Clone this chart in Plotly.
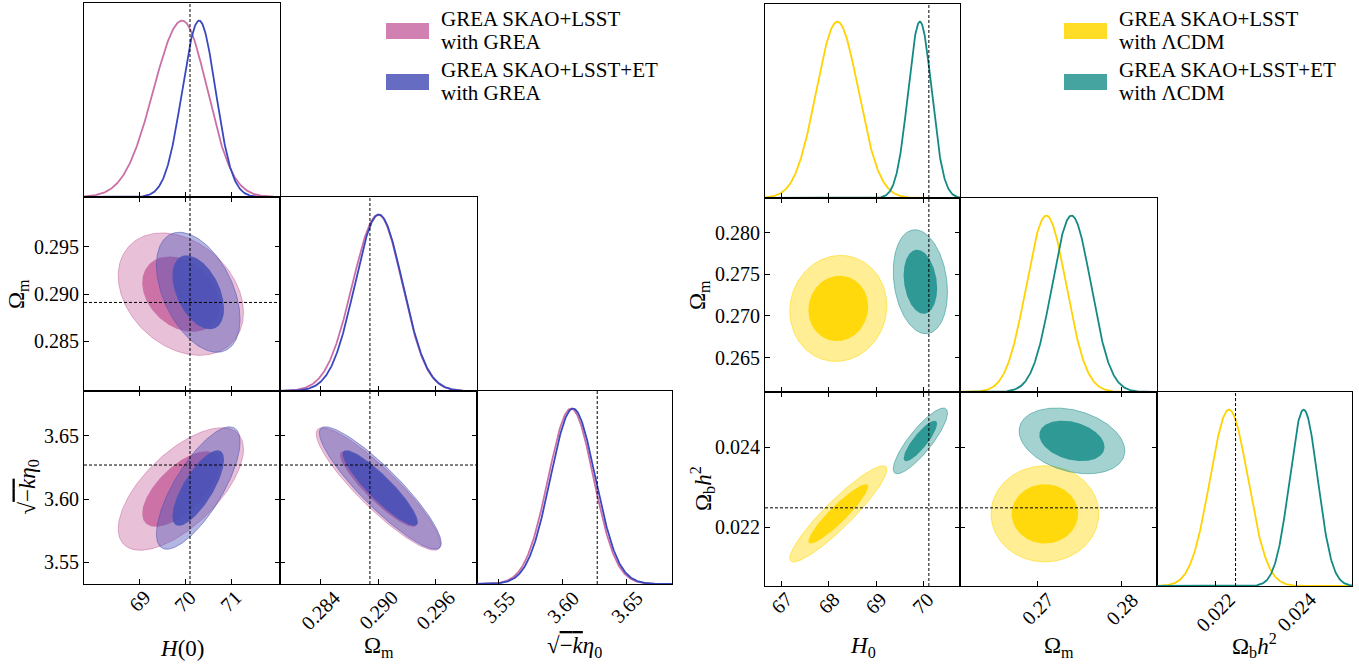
import numpy as np
import plotly.graph_objects as go

W, H = 1359, 664

# ---------------- data ----------------
SQRTK = "√<span style='text-decoration:overline'>−<i>k</i></span><i>η</i><sub>0</sub>"
L_LABELS = ["<i>H</i>(0)", "Ω<sub>m</sub>", SQRTK]
L_RANGES = [[67.78, 72.07], [0.27973, 0.3003], [3.5328, 3.6856]]
L_FID = [70.1, 0.28912, 3.627]
L_TICKS = [[69, 70, 71], [0.284, 0.290, 0.296], [3.55, 3.60, 3.65]]
L_TICKTEXT = [["69", "70", "71"], ["0.284", "0.290", "0.296"], ["3.55", "3.60", "3.65"]]
L_YTICKS = [None, [0.285, 0.290, 0.295], [3.55, 3.60, 3.65]]
L_YTICKTEXT = [None, ["0.285", "0.290", "0.295"], ["3.55", "3.60", "3.65"]]

L_NAMES = [["GREA SKAO+LSST", "with GREA"], ["GREA SKAO+LSST+ET", "with GREA"]]
L_FILL = [(201, 107, 163), (75, 82, 182)]
L_LINE = ["#CA70A7", "#3A48C0"]
L_MEAN1D = [[69.93, 0.2900, 3.6065], [70.30, 0.29005, 3.6080]]
L_SIGLO1D = [[0.63, 0.0027, 0.0178], [0.37, 0.0025, 0.0176]]
L_SIGHI1D = [[0.55, 0.0025, 0.0176], [0.36, 0.0025, 0.0176]]
L_MEAN2D = [[69.90, 0.2900, 3.6080], [70.28, 0.2902, 3.6088]]
L_SIG2D = [[0.56, 0.00265, 0.0198], [0.374, 0.0026, 0.0198]]
L_RHO = [[-0.30, 0.65, -0.90], [-0.45, 0.75, -0.90]]  # pairs (0,1),(0,2),(1,2)

R_LABELS = ["<i>H</i><sub>0</sub>", "Ω<sub>m</sub>", "Ω<sub>b</sub><i>h</i><sup>2</sup>"]
R_RANGES = [[66.646, 70.78], [0.26087, 0.28415], [0.02054, 0.02538]]
R_FID = [70.12, None, 0.02249]
R_TICKS = [[67, 68, 69, 70], [0.27, 0.28], [0.022, 0.024]]
R_TICKTEXT = [["67", "68", "69", "70"], ["0.27", "0.28"], ["0.022", "0.024"]]
R_YTICKS = [None, [0.265, 0.270, 0.275, 0.280], [0.022, 0.024]]
R_YTICKTEXT = [None, ["0.265", "0.270", "0.275", "0.280"], ["0.022", "0.024"]]

R_NAMES = [["GREA SKAO+LSST", "with ΛCDM"], ["GREA SKAO+LSST+ET", "with ΛCDM"]]
R_FILL = [(255, 215, 0), (37, 148, 143)]
R_LINE = ["#FFD200", "#138A84"]
R_MEAN1D = [[68.18, 0.27107, 0.022328], [69.93, 0.27405, 0.02418]]
R_SIGLO1D = [[0.447, 0.00236, 0.000472], [0.249, 0.0023, 0.00035]]
R_SIGHI1D = [[0.447, 0.00236, 0.000472], [0.249, 0.0023, 0.00035]]
R_MEAN2D = [[68.20, 0.2709, 0.02234], [69.94, 0.2741, 0.02416]]
R_SIG2D = [[0.42, 0.0026, 0.00049], [0.235, 0.00255, 0.000335]]
R_RHO = [[0.05, 0.92, 0.0], [-0.2, 0.85, -0.3]]

CONTOUR_LEVELS = [0.95, 0.68]

# ---------------- layout geometry (pixels) ----------------
L_COLS = [(84, 280), (280, 477), (477, 672)]
L_ROWS = [(3, 197), (197, 391), (391, 584)]
R_COLS = [(765, 960), (960, 1157), (1157, 1352)]
R_ROWS = [(4, 198), (198, 392), (392, 586)]
L_YLAB_X = [None, 18, 28]
R_YLAB_X = [None, 699, 702]

FONT = "Liberation Serif, DejaVu Serif, serif"
TICKFONT = dict(family=FONT, size=20, color="black")


def px(x):
    return x / W


def py(y):
    return 1 - y / H


fig = go.Figure()
layout = {}
shapes = []
annotations = []
axis_counter = [0]

PAIR_INDEX = {(0, 1): 0, (0, 2): 1, (1, 2): 2}


def rgba(c, a):
    return f"rgba({c[0]},{c[1]},{c[2]},{a})"


def ellipse(mean, sx, sy, rho, level):
    r = np.sqrt(-2 * np.log(1 - level))
    t = np.linspace(0, 2 * np.pi, 240)
    cov = np.array([[sx * sx, rho * sx * sy], [rho * sx * sy, sy * sy]])
    Lc = np.linalg.cholesky(cov)
    z = r * np.vstack([np.cos(t), np.sin(t)])
    pts = Lc @ z
    return mean[0] + pts[0], mean[1] + pts[1]


def build_corner(cols, rows, labels, ranges, fid, ticks, ticktext, yticks, yticktext,
                 fills, lines, mean1d, siglo, sighi, mean2d, sig2d, rho):
    n = len(labels)
    for i in range(n):
        for j in range(i + 1):
            axis_counter[0] += 1
            k = axis_counter[0]
            suf = "" if k == 1 else str(k)
            xa = f"xaxis{suf}"
            ya = f"yaxis{suf}"
            xr = f"x{suf}"
            yr = f"y{suf}"
            bottom = (i == n - 1)
            xaxis = dict(domain=[px(cols[j][0]), px(cols[j][1])], range=ranges[j],
                         anchor=yr, showgrid=False, zeroline=False, showline=True,
                         linecolor="black", linewidth=1, mirror=True,
                         ticks="inside", ticklen=5, tickwidth=1, tickcolor="black",
                         tickvals=ticks[j], showticklabels=False)
            yaxis = dict(domain=[py(rows[i][1]), py(rows[i][0])], anchor=xr,
                         showgrid=False, zeroline=False, showline=True,
                         linecolor="black", linewidth=1, mirror=True, tickfont=TICKFONT)
            if bottom:
                # rotated tick labels centred under each tick (matplotlib style)
                for tv, tt in zip(ticks[j], ticktext[j]):
                    annotations.append(dict(text=tt, x=tv, xref=xr, y=py(rows[i][1] + 1),
                                            yref="paper", showarrow=False, textangle=-45,
                                            xanchor="center", yanchor="top", font=TICKFONT,
                                            borderpad=0))
            if i == j:
                yaxis.update(range=[0, 1.1], ticks="", showticklabels=False)
                xgrid = np.linspace(ranges[j][0], ranges[j][1], 400)
                for s in range(len(fills)):
                    m = mean1d[s][j]
                    sd = np.where(xgrid < m, siglo[s][j], sighi[s][j])
                    yv = np.exp(-0.5 * ((xgrid - m) / sd) ** 2)
                    fig.add_trace(go.Scatter(x=xgrid, y=yv, mode="lines",
                                             line=dict(color=lines[s], width=1.8),
                                             xaxis=xr, yaxis=yr, showlegend=False,
                                             hoverinfo="skip"))
                if fid[j] is not None:
                    shapes.append(dict(type="line", xref=xr, yref=f"{yr} domain",
                                       x0=fid[j], x1=fid[j], y0=0, y1=1,
                                       line=dict(color="black", width=1, dash="3px,2px")))
            else:
                xaxis.update(mirror="allticks")
                yaxis.update(range=ranges[i], ticks="inside", ticklen=5, tickwidth=1,
                             tickcolor="black", tickvals=yticks[i], ticktext=yticktext[i],
                             showticklabels=(j == 0), mirror="allticks")
                p = PAIR_INDEX[(j, i)]
                for s in range(len(fills)):
                    for lev in CONTOUR_LEVELS:
                        ex, ey = ellipse([mean2d[s][j], mean2d[s][i]], sig2d[s][j],
                                         sig2d[s][i], rho[s][p], lev)
                        if lev == CONTOUR_LEVELS[0]:
                            fc = rgba(fills[s], 0.42)
                            lc = rgba(fills[s], 0.55)
                        else:
                            fc = rgba(fills[s], 0.92)
                            lc = rgba(fills[s], 0.0)
                        fig.add_trace(go.Scatter(x=ex, y=ey, mode="lines", fill="toself",
                                                 fillcolor=fc, line=dict(color=lc, width=1),
                                                 xaxis=xr, yaxis=yr, showlegend=False,
                                                 hoverinfo="skip"))
                if fid[j] is not None:
                    shapes.append(dict(type="line", xref=xr, yref=f"{yr} domain",
                                       x0=fid[j], x1=fid[j], y0=0, y1=1,
                                       line=dict(color="black", width=1, dash="3px,2px")))
                if fid[i] is not None:
                    shapes.append(dict(type="line", xref=f"{xr} domain", yref=yr,
                                       x0=0, x1=1, y0=fid[i], y1=fid[i],
                                       line=dict(color="black", width=1, dash="3px,2px")))
            layout[xa] = xaxis
            layout[ya] = yaxis


build_corner(L_COLS, L_ROWS, L_LABELS, L_RANGES, L_FID, L_TICKS, L_TICKTEXT,
             L_YTICKS, L_YTICKTEXT, L_FILL, L_LINE, L_MEAN1D, L_SIGLO1D, L_SIGHI1D,
             L_MEAN2D, L_SIG2D, L_RHO)
build_corner(R_COLS, R_ROWS, R_LABELS, R_RANGES, R_FID, R_TICKS, R_TICKTEXT,
             R_YTICKS, R_YTICKTEXT, R_FILL, R_LINE, R_MEAN1D, R_SIGLO1D, R_SIGHI1D,
             R_MEAN2D, R_SIG2D, R_RHO)

TITLEFONT = dict(family=FONT, size=23, color="black")

# axis titles
for labels, cols, rows, ylx in [(L_LABELS, L_COLS, L_ROWS, L_YLAB_X), (R_LABELS, R_COLS, R_ROWS, R_YLAB_X)]:
    for j, lab in enumerate(labels):
        annotations.append(dict(text=lab, x=px((cols[j][0] + cols[j][1]) / 2), y=py(663),
                                xref="paper", yref="paper", showarrow=False,
                                xanchor="center", yanchor="bottom", font=TITLEFONT))
    for i in (1, 2):
        annotations.append(dict(text=labels[i], x=px(ylx[i]), y=py((rows[i][0] + rows[i][1]) / 2),
                                xref="paper", yref="paper", showarrow=False, textangle=-90,
                                xanchor="center", yanchor="middle", font=TITLEFONT))

# legends
LEGFONT = dict(family=FONT, size=21, color="black")
for names, fills, x0 in [(L_NAMES, L_FILL, 386), (R_NAMES, R_FILL, 1064)]:
    for s, nm in enumerate(names):
        yc = 31 + s * 51
        shapes.append(dict(type="rect", xref="paper", yref="paper",
                           x0=px(x0), x1=px(x0 + 43), y0=py(yc + 8), y1=py(yc - 8),
                           fillcolor=rgba(fills[s], 0.85), line=dict(width=0)))
        for li, line in enumerate(nm):
            annotations.append(dict(text=line, x=px(x0 + 53), y=py(yc - 12 + li * 23),
                                    xref="paper", yref="paper", showarrow=False,
                                    xanchor="left", yanchor="middle", font=LEGFONT))

fig.update_layout(width=W, height=H, margin=dict(l=0, r=0, t=0, b=0),
                  paper_bgcolor="white", plot_bgcolor="white",
                  font=dict(family=FONT),
                  shapes=shapes, annotations=annotations, showlegend=False, **layout)

fig.write_html("out.html")
